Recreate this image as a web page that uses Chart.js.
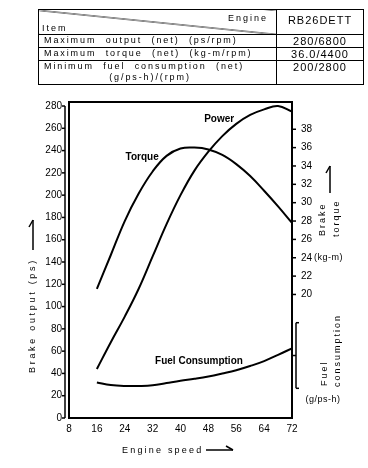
<!DOCTYPE html>
<html>
<head>
<meta charset="utf-8">
<title>RB26DETT performance curves</title>
<script src="https://cdn.jsdelivr.net/npm/chart.js@4"></script>
<style>
  html, body { margin: 0; padding: 0; background: #fff; }
  #wrap { position: relative; width: 368px; height: 468px; overflow: hidden; }
  #perf { position: absolute; left: 0; top: 0; }
  #spec {
    position: absolute; left: 38px; top: 9px;
    border-collapse: collapse; table-layout: fixed;
    font-family: "Liberation Sans", Arial, sans-serif; color: #000;
  }
  #spec td { border: 1.5px solid #000; padding: 0; vertical-align: top; }
  #spec td.lbl { font-size: 9px; letter-spacing: 1.9px; word-spacing: 5px; line-height: 11px; padding-left: 5px; }
  #spec td.val { font-size: 11px; letter-spacing: 1px; line-height: 12px; text-align: center; }
  #spec td.diag {
    position: relative;
    background: linear-gradient(to top right, transparent calc(50% - 0.8px), #000 50%, transparent calc(50% + 0.8px));
  }
  .eng { position: absolute; right: 8px; top: 3px; font-size: 9px; letter-spacing: 2px; }
  .item { position: absolute; left: 3px; bottom: 1px; font-size: 9px; letter-spacing: 2px; }
  .sub { display: block; text-align: center; padding-right: 20px; }
</style>
</head>
<body>
<div id="wrap">
  <canvas id="perf" width="368" height="468"></canvas>
  <table id="spec">
    <colgroup><col style="width:238px"><col style="width:87px"></colgroup>
    <tr style="height:25px">
      <td class="diag"><span class="eng">Engine</span><span class="item">Item</span></td>
      <td class="val" style="padding-top:4px">RB26DETT</td>
    </tr>
    <tr style="height:13px">
      <td class="lbl">Maximum output (net) (ps/rpm)</td>
      <td class="val">280/6800</td>
    </tr>
    <tr style="height:10px">
      <td class="lbl">Maximum torque (net) (kg-m/rpm)</td>
      <td class="val">36.0/4400</td>
    </tr>
    <tr style="height:24px">
      <td class="lbl">Minimum fuel consumption (net)<span class="sub">(g/ps-h)/(rpm)</span></td>
      <td class="val">200/2800</td>
    </tr>
  </table>
</div>
<script>
// engine speed (x100 rpm)
const speeds = [16, 20, 24, 28, 32, 36, 40, 44, 48, 52, 56, 60, 64, 68, 72];
// brake output (ps)
const power = [44, 68, 91, 116, 145, 174, 200, 222, 239, 253, 264, 272, 277, 280, 275];
// brake torque (kg-m)
const torque = [20.6, 24.3, 28.0, 31.0, 33.4, 35.1, 35.9, 36.0, 35.8, 35.2, 34.2, 32.9, 31.3, 29.6, 27.8];
// fuel consumption (g/ps-h)
const fuel = [218, 210, 207, 207, 209, 216, 223, 229, 236, 245, 255, 268, 283, 302, 322];

const speedTicks = [8, 16, 24, 32, 40, 48, 56, 64, 72];
const outputTicks = [0, 20, 40, 60, 80, 100, 120, 140, 160, 180, 200, 220, 240, 260, 280];
const torqueTicks = [20, 22, 24, 26, 28, 30, 32, 34, 36, 38];
const fuelTicks = [200, 300, 400];

const FONT = '"Liberation Sans", Arial, sans-serif';

function pts(values) {
    return speeds.map((s, i) => ({ x: s, y: values[i] }));
}

function fixedTicks(list) {
    return (scale) => { scale.ticks = list.map(v => ({ value: v })); };
}

function seg(ctx, x1, y1, x2, y2) {
    ctx.beginPath();
    ctx.moveTo(x1, y1);
    ctx.lineTo(x2, y2);
    ctx.stroke();
}

// rotated text, reading bottom to top, starting at (x, y)
function upText(ctx, text, x, y) {
    ctx.save();
    ctx.translate(x, y);
    ctx.rotate(-Math.PI / 2);
    ctx.textAlign = 'left';
    ctx.textBaseline = 'middle';
    ctx.fillText(text, 0, 0);
    ctx.restore();
}

// decorations: frame, axis lines, titles, curve names
const decor = {
    id: 'decor',
    afterDraw(chart) {
        const { ctx, chartArea: a, scales } = chart;
        const { x, y, yT, yF } = scales;
        ctx.save();
        ctx.strokeStyle = '#000';
        ctx.fillStyle = '#000';

        // plot frame
        ctx.lineWidth = 2;
        ctx.strokeRect(a.left, a.top, a.right - a.left, a.bottom - a.top);

        // left output axis
        ctx.lineWidth = 1.5;
        const lx = a.left - 4;
        seg(ctx, lx, y.getPixelForValue(0), lx, y.getPixelForValue(280));
        outputTicks.forEach(v => {
            const py = y.getPixelForValue(v);
            seg(ctx, lx - 3, py, lx, py);
        });

        // torque ticks on the right frame
        torqueTicks.forEach(v => {
            const py = yT.getPixelForValue(v);
            seg(ctx, a.right, py, a.right + 4, py);
        });

        // fuel axis
        const fx = a.right + 4;
        seg(ctx, fx, yF.getPixelForValue(400), fx, yF.getPixelForValue(200));
        fuelTicks.forEach(v => {
            const py = yF.getPixelForValue(v);
            if (v === 300) seg(ctx, fx - 4, py, fx, py);
            else seg(ctx, fx, py, fx + 3, py);
        });

        // curve names
        ctx.font = 'bold 10px ' + FONT;
        ctx.textAlign = 'center';
        ctx.textBaseline = 'middle';
        ctx.fillText('Power', x.getPixelForValue(51.1), y.getPixelForValue(268));
        ctx.fillText('Torque', x.getPixelForValue(29), y.getPixelForValue(234));
        ctx.fillText('Fuel Consumption', x.getPixelForValue(45.3), y.getPixelForValue(50.5));

        // axis titles
        ctx.font = '9px ' + FONT;
        ctx.letterSpacing = '2.7px';
        upText(ctx, 'Brake output (ps)', 33, 373);
        ctx.letterSpacing = '2.2px';
        ctx.textAlign = 'left';
        ctx.fillText('Engine speed', 122, 451);
        ctx.letterSpacing = '2px';
        upText(ctx, 'Brake', 323, 236);
        upText(ctx, 'torque', 337, 237);
        upText(ctx, 'Fuel', 325, 386);
        upText(ctx, 'consumption', 337.5, 387);
        ctx.letterSpacing = '0.5px';
        ctx.textAlign = 'left';
        ctx.fillText('(kg-m)', 314, yT.getPixelForValue(24));
        ctx.textAlign = 'center';
        ctx.fillText('(g/ps-h)', 323, 400);
        ctx.letterSpacing = '0px';

        // arrows
        ctx.lineWidth = 1.5;
        seg(ctx, 206, 450, 233, 450);
        seg(ctx, 226, 446, 233, 450);
        seg(ctx, 33, 250, 33, 220);
        seg(ctx, 29, 227, 33, 220);
        seg(ctx, 330, 193, 330, 166);
        seg(ctx, 326, 173, 330, 166);
        ctx.restore();
    }
};

const lineStyle = {
    borderColor: '#000',
    borderWidth: 2,
    pointRadius: 0,
    fill: false,
    tension: 0.4,
};

new Chart(document.getElementById('perf').getContext('2d'), {
    type: 'line',
    data: {
        datasets: [
            { label: 'Power', data: pts(power), yAxisID: 'y', ...lineStyle },
            { label: 'Torque', data: pts(torque), yAxisID: 'yT', ...lineStyle },
            { label: 'Fuel Consumption', data: pts(fuel), yAxisID: 'yF', ...lineStyle },
        ],
    },
    options: {
        responsive: false,
        animation: false,
        devicePixelRatio: 1,
        layout: { padding: { top: 102, left: 0, right: 0, bottom: 0 } },
        plugins: { legend: { display: false }, tooltip: { enabled: false } },
        scales: {
            x: {
                type: 'linear',
                position: 'bottom',
                min: 8,
                max: 72,
                afterBuildTicks: fixedTicks(speedTicks),
                afterFit: (s) => { s.height = 50; },
                grid: { display: false, drawTicks: false },
                border: { display: false },
                ticks: { color: '#000', font: { family: FONT, size: 10 }, padding: 5, maxRotation: 0, autoSkip: false },
            },
            y: {
                position: 'left',
                min: 0,
                max: 283.6,
                afterBuildTicks: fixedTicks(outputTicks),
                afterFit: (s) => { s.width = 69; },
                grid: { display: false, drawTicks: false },
                border: { display: false },
                ticks: { color: '#000', font: { family: FONT, size: 10 }, padding: 7 },
            },
            yF: {
                position: 'right',
                weight: 0,
                min: 109.5,
                max: 1072.9,
                afterBuildTicks: fixedTicks(fuelTicks),
                afterFit: (s) => { s.width = 0; },
                grid: { display: false, drawTicks: false },
                border: { display: false },
                ticks: { color: '#000', font: { family: FONT, size: 10 }, padding: 9 },
            },
            yT: {
                position: 'right',
                weight: 1,
                min: 6.54,
                max: 40.97,
                afterBuildTicks: fixedTicks(torqueTicks),
                afterFit: (s) => { s.width = 76; },
                grid: { display: false, drawTicks: false },
                border: { display: false },
                ticks: { color: '#000', font: { family: FONT, size: 10 }, padding: 9 },
            },
        },
    },
    plugins: [decor],
});
</script>
</body>
</html>
